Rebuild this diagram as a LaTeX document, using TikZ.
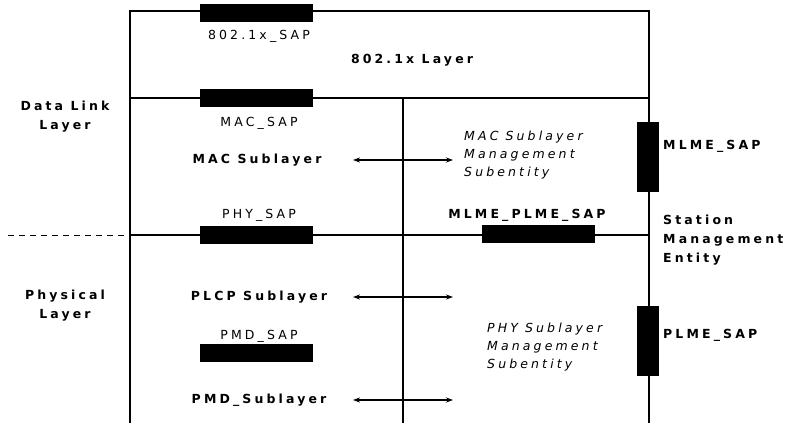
\documentclass[tikz,border=0pt]{standalone}
\usepackage{fontspec}
\setmainfont{DejaVu Sans}
\newfontfamily\spaced[LetterSpace=25]{DejaVu Sans}
\usetikzlibrary{arrows.meta,positioning}

\begin{document}
\begin{tikzpicture}[x=1pt, y=-1pt,
    ln/.style={line width=1.3pt},
    sap/.style={fill=black, inner sep=0pt, minimum width=113pt, minimum height=18pt},
    vsap/.style={fill=black, inner sep=0pt, minimum width=22pt, minimum height=70pt},
    tx/.style={font=\spaced\fontsize{12.5}{19}\selectfont, inner sep=1pt},
    bx/.style={font=\spaced\bfseries\fontsize{12.5}{19}\selectfont, inner sep=1pt, align=center},
    ix/.style={font=\spaced\itshape\fontsize{12.5}{18}\selectfont, inner sep=1pt, align=left, anchor=west},
    arr/.style={line width=1.2pt, {Stealth[length=7pt,width=5pt]}-{Stealth[length=7pt,width=5pt]}}
  ]
    \useasboundingbox (0,0) rectangle (795,423);
    % frame of the layers
    \coordinate (tl) at (130,11);  \coordinate (tr) at (649,11);
    \coordinate (bl) at (130,423); \coordinate (br) at (649,423);
    \coordinate (ml) at (130,98);  \coordinate (mr) at (649,98);
    \coordinate (pl) at (130,235); \coordinate (pr) at (649,235);
    \coordinate (dl) at (8,235);
    \coordinate (ct) at (403,98);  \coordinate (cb) at (403,423);
    \draw[ln] (bl) -- (tl) -- (tr) -- (br);
    \draw[ln] (ml) -- (mr);
    \draw[ln] (pl) -- (pr);
    \draw[ln] (ct) -- (cb);
    \draw[line width=0.7pt, dash pattern=on 6pt off 5pt] (dl) -- (pl);

    % service access points
    \node[sap]  (sap1x)  at (256.5,13)  {};
    \node[sap]  (macsap) at (256.5,97.5) {};
    \node[sap]  (physap) at (256.5,234.5) {};
    \node[sap]  (pmdsap) at (256.5,352.5) {};
    \node[sap]  (mpsap)  at (538,233.5) {};
    \node[vsap] (mlmesap) at (648,157) {};
    \node[vsap] (plmesap) at (648,341) {};

    \node[tx] (sap1xL)  at (259,36)  {802.1x\_SAP};
    \node[tx] (macsapL) at (259,123) {MAC\_SAP};
    \node[tx] (physapL) at (259,215) {PHY\_SAP};
    \node[tx] (pmdsapL) at (259,336) {PMD\_SAP};
    \node[bx] (mpsapL)  at (527,215) {MLME\_PLME\_SAP};
    \node[bx, anchor=west] (mlmesapL) at (662,146) {MLME\_SAP};
    \node[bx, anchor=west] (plmesapL) at (662,335) {PLME\_SAP};

    % layers and sublayers
    \node[bx] (l1x)  at (412,60)  {802.1x Layer};
    \node[bx] (dll)  at (65,117)  {Data Link\\Layer};
    \node[bx] (phl)  at (65,306)  {Physical\\Layer};
    \node[bx, align=left, anchor=west] (sme) at (662,240) {Station\\Management\\Entity};
    \node[bx] (macsub)  at (257,160) {MAC Sublayer};
    \node[bx] (plcpsub) at (259,297) {PLCP Sublayer};
    \node[bx] (pmdsub)  at (259,400) {PMD\_Sublayer};
    \node[ix] (mlme) at (463,155) {MAC Sublayer\\Management\\Subentity};
    \node[ix] (plme) at (486,347) {PHY Sublayer\\Management\\Subentity};

    % sublayer to management
    \coordinate (macA) at (353,160);  \coordinate (macB) at (453,160);
    \coordinate (plcpA) at (353,297); \coordinate (plcpB) at (453,297);
    \coordinate (pmdA) at (353,400);  \coordinate (pmdB) at (453,400);
    \draw[arr] (macA) -- (macB);
    \draw[arr] (plcpA) -- (plcpB);
    \draw[arr] (pmdA) -- (pmdB);
  \end{tikzpicture}
\end{document}
